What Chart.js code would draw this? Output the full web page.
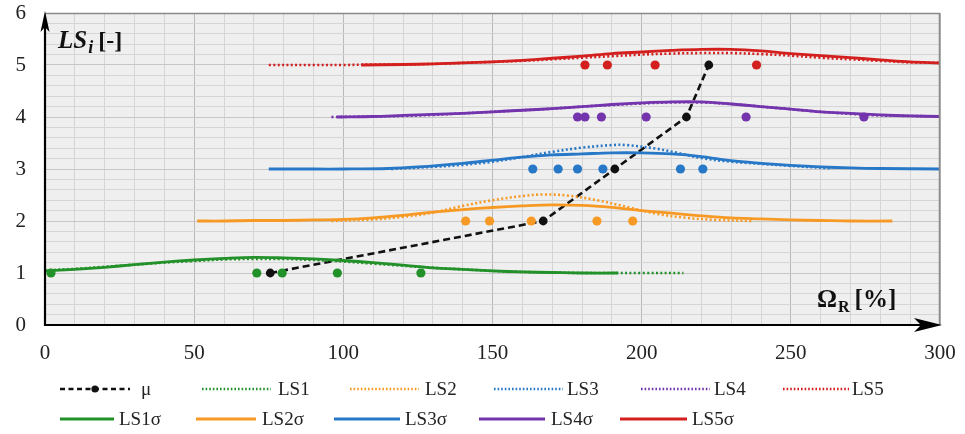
<!DOCTYPE html>
<html>
<head>
<meta charset="utf-8">
<script src="https://cdn.jsdelivr.net/npm/chart.js@4.4.1/dist/chart.umd.min.js"></script>
<style>
  html, body { margin: 0; padding: 0; background: #fff; }
  #wrap { width: 965px; height: 434px; position: relative; }
</style>
</head>
<body>
<div id="wrap"><canvas id="c" width="965" height="434"></canvas></div>
<script>
// ---- axis tick labels ----
const xTickLabels = [0, 50, 100, 150, 200, 250, 300];
const yTickLabels = [0, 1, 2, 3, 4, 5, 6];

// ---- mean trend (μ) ----
const muX = [75.5, 167, 191, 215, 222.5];
const muY = [1, 2, 3, 4, 5];

// ---- observed points at each limit state ----
const obs1X = [2, 71, 79.5, 98, 126];
const obs2X = [141, 149, 163, 185, 197];
const obs3X = [163.5, 172, 178.5, 187, 213, 220.5];
const obs4X = [178.5, 181, 186.5, 201.5, 235, 274.5];
const obs5X = [181, 188.5, 204.5, 238.5];

// ---- LS1 ----
const ls1X = [0, 10, 20, 30, 40, 50, 60, 70, 80, 90, 100, 110, 120, 130, 140, 150, 160, 170, 180, 190, 200, 214];
const ls1Y = [1.05, 1.08, 1.12, 1.16, 1.20, 1.23, 1.26, 1.27, 1.27, 1.25, 1.22, 1.18, 1.14, 1.10, 1.07, 1.04, 1.02, 1.01, 1.00, 1.00, 1.00, 1.00];
const ls1sX = [0, 10, 20, 30, 40, 50, 60, 70, 80, 90, 100, 110, 120, 130, 140, 150, 160, 170, 180, 192];
const ls1sY = [1.04, 1.07, 1.11, 1.16, 1.21, 1.25, 1.28, 1.30, 1.29, 1.27, 1.24, 1.20, 1.15, 1.10, 1.07, 1.04, 1.02, 1.01, 1.00, 1.00];

// ---- LS2 ----
const ls2X = [96, 110, 120, 130, 140, 150, 160, 167, 175, 185, 195, 205, 215, 225, 237];
const ls2Y = [2.00, 2.03, 2.08, 2.16, 2.29, 2.40, 2.48, 2.51, 2.49, 2.40, 2.27, 2.14, 2.06, 2.02, 2.00];
const ls2sX = [51, 60, 70, 80, 90, 100, 110, 120, 130, 140, 150, 160, 170, 180, 190, 200, 210, 220, 230, 240, 250, 260, 270, 284];
const ls2sY = [2.00, 2.00, 2.01, 2.01, 2.02, 2.03, 2.06, 2.11, 2.17, 2.22, 2.26, 2.29, 2.31, 2.30, 2.26, 2.20, 2.15, 2.10, 2.06, 2.04, 2.02, 2.01, 2.00, 2.00];

// ---- LS3 ----
const ls3X = [116, 130, 140, 150, 160, 170, 180, 190, 195, 205, 212, 220, 230, 240, 250, 264];
const ls3Y = [3.00, 3.04, 3.08, 3.14, 3.23, 3.33, 3.41, 3.46, 3.46, 3.39, 3.31, 3.21, 3.14, 3.10, 3.06, 3.01];
const ls3sX = [75, 90, 100, 115, 125, 140, 150, 160, 170, 180, 190, 200, 210, 220, 230, 240, 250, 260, 270, 280, 300];
const ls3sY = [3.00, 3.00, 3.00, 3.01, 3.04, 3.11, 3.17, 3.23, 3.27, 3.29, 3.31, 3.31, 3.29, 3.24, 3.16, 3.11, 3.07, 3.04, 3.02, 3.01, 3.00];

// ---- LS4 ----
const ls4X = [96, 110, 120, 130, 140, 150, 160, 170, 180, 190, 200, 210, 220, 230, 240, 250, 260, 270, 280, 290, 300];
const ls4Y = [4.00, 4.01, 4.02, 4.04, 4.07, 4.10, 4.13, 4.16, 4.20, 4.23, 4.26, 4.28, 4.28, 4.25, 4.20, 4.15, 4.10, 4.06, 4.03, 4.02, 4.01];
const ls4sX = [98, 110, 120, 130, 140, 150, 160, 170, 180, 190, 200, 210, 220, 230, 240, 250, 260, 270, 280, 290, 300];
const ls4sY = [4.00, 4.01, 4.03, 4.05, 4.07, 4.10, 4.13, 4.16, 4.20, 4.24, 4.27, 4.29, 4.29, 4.25, 4.20, 4.15, 4.10, 4.07, 4.04, 4.02, 4.01];

// ---- LS5 ----
const ls5X = [75, 90, 100, 110, 120, 130, 140, 150, 160, 170, 180, 190, 200, 210, 220, 230, 240, 250, 260, 270, 280, 290, 300];
const ls5Y = [5.00, 5.00, 5.00, 5.01, 5.01, 5.02, 5.04, 5.06, 5.08, 5.11, 5.14, 5.17, 5.20, 5.22, 5.23, 5.23, 5.21, 5.18, 5.14, 5.11, 5.08, 5.05, 5.04];
const ls5sX = [106, 120, 130, 140, 150, 160, 170, 180, 190, 200, 210, 220, 230, 240, 250, 260, 270, 280, 290, 300];
const ls5sY = [5.00, 5.01, 5.02, 5.04, 5.06, 5.09, 5.13, 5.17, 5.22, 5.25, 5.28, 5.30, 5.30, 5.27, 5.22, 5.18, 5.14, 5.10, 5.06, 5.04];

// ---- series colours ----
const GREEN = '#23912a';
const ORANGE = '#f79a25';
const BLUE = '#2878c8';
const PURPLE = '#7434ad';
const RED = '#d3201f';

const SERIF = '"Liberation Serif", "Times New Roman", serif';

const pts = (xs, ys) => xs.map((x, i) => ({ x, y: ys[i] }));
const level = (xs, lv) => xs.map(x => ({ x, y: lv }));

function dotted(label, xs, ys, color) {
  return { label, data: pts(xs, ys), showLine: true, borderColor: color, backgroundColor: color,
    borderWidth: 2.6, borderDash: [2, 2.4], pointRadius: 0, tension: 0.35, legend: 'dot' };
}
function solid(label, xs, ys, color) {
  return { label, data: pts(xs, ys), showLine: true, borderColor: color, backgroundColor: color,
    borderWidth: 2.8, pointRadius: 0, tension: 0.35, legend: 'solid' };
}
function obs(label, xs, lv, color) {
  return { label, data: level(xs, lv), showLine: false, borderColor: color, backgroundColor: color,
    pointRadius: 4.6, pointBorderWidth: 0, legend: null };
}

const datasets = [
  solid('LS1σ', ls1sX, ls1sY, GREEN),
  solid('LS2σ', ls2sX, ls2sY, ORANGE),
  solid('LS3σ', ls3sX, ls3sY, BLUE),
  solid('LS4σ', ls4sX, ls4sY, PURPLE),
  solid('LS5σ', ls5sX, ls5sY, RED),
  dotted('LS1', ls1X, ls1Y, GREEN),
  dotted('LS2', ls2X, ls2Y, ORANGE),
  dotted('LS3', ls3X, ls3Y, BLUE),
  dotted('LS4', ls4X, ls4Y, PURPLE),
  dotted('LS5', ls5X, ls5Y, RED),
  obs('LS1 obs', obs1X, 1, GREEN),
  obs('LS2 obs', obs2X, 2, ORANGE),
  obs('LS3 obs', obs3X, 3, BLUE),
  obs('LS4 obs', obs4X, 4, PURPLE),
  obs('LS5 obs', obs5X, 5, RED),
  { label: 'μ', data: pts(muX, muY), showLine: true, borderColor: '#111', backgroundColor: '#111',
    borderWidth: 2.6, borderDash: [7, 4], pointRadius: 4.4, pointBorderWidth: 0, tension: 0, legend: 'mu' }
];

// legend placement: sample start, sample end, text start, row centre
const legendLayout = [
  { label: 'μ',    x0: 60,  x1: 130, tx: 141, y: 389 },
  { label: 'LS1',  x0: 202, x1: 271, tx: 278, y: 389 },
  { label: 'LS2',  x0: 350, x1: 419, tx: 425, y: 389 },
  { label: 'LS3',  x0: 494, x1: 563, tx: 567, y: 389 },
  { label: 'LS4',  x0: 641, x1: 710, tx: 714, y: 389 },
  { label: 'LS5',  x0: 783, x1: 849, tx: 852, y: 389 },
  { label: 'LS1σ', x0: 60,  x1: 114, tx: 119, y: 419 },
  { label: 'LS2σ', x0: 196, x1: 256, tx: 262, y: 419 },
  { label: 'LS3σ', x0: 334, x1: 400, tx: 405, y: 419 },
  { label: 'LS4σ', x0: 479, x1: 545, tx: 551, y: 419 },
  { label: 'LS5σ', x0: 620, x1: 687, tx: 692, y: 419 }
];

const isLabel = (v, list) => list.some(t => Math.abs(t - v) < 1e-6);

const decor = {
  id: 'decor',
  beforeDraw(chart) {
    const { ctx, chartArea: a } = chart;
    ctx.save();
    ctx.fillStyle = '#efefef';
    ctx.fillRect(a.left, a.top, a.right - a.left, a.bottom - a.top);
    ctx.restore();
  },
  afterDraw(chart) {
    const { ctx, chartArea: a } = chart;
    ctx.save();
    // frame on top and right
    ctx.strokeStyle = '#8a8a8a';
    ctx.lineWidth = 1.5;
    ctx.beginPath();
    ctx.moveTo(a.left, a.top + 0.5);
    ctx.lineTo(a.right - 0.5, a.top + 0.5);
    ctx.lineTo(a.right - 0.5, a.bottom);
    ctx.stroke();

    // axes with arrow heads
    ctx.strokeStyle = '#000';
    ctx.fillStyle = '#000';
    ctx.lineWidth = 2.2;
    ctx.beginPath();
    ctx.moveTo(a.left, a.bottom + 1);
    ctx.lineTo(a.left, a.top + 10);
    ctx.moveTo(a.left - 1, a.bottom);
    ctx.lineTo(a.right - 12, a.bottom);
    ctx.stroke();
    // vertical arrow
    ctx.beginPath();
    ctx.moveTo(a.left, a.top - 2);
    ctx.lineTo(a.left - 4.5, a.top + 19);
    ctx.lineTo(a.left, a.top + 14);
    ctx.lineTo(a.left + 4.5, a.top + 19);
    ctx.closePath();
    ctx.fill();
    // horizontal arrow
    ctx.beginPath();
    ctx.moveTo(a.right + 2, a.bottom);
    ctx.lineTo(a.right - 26, a.bottom - 7);
    ctx.lineTo(a.right - 19, a.bottom);
    ctx.lineTo(a.right - 26, a.bottom + 7);
    ctx.closePath();
    ctx.fill();

    // axis titles
    ctx.fillStyle = '#111';
    ctx.textBaseline = 'alphabetic';
    let x = 58;
    ctx.font = 'italic bold 25px ' + SERIF;
    ctx.fillText('LS', x, 48);
    x += ctx.measureText('LS').width;
    ctx.font = 'italic bold 18px ' + SERIF;
    ctx.fillText('i', x + 1, 53);
    x += ctx.measureText('i').width + 6;
    ctx.font = 'bold 24px ' + SERIF;
    ctx.fillText('[-]', x, 48);

    x = 817;
    ctx.font = 'bold 25px ' + SERIF;
    ctx.fillText('Ω', x, 307);
    x += ctx.measureText('Ω').width + 1;
    ctx.font = 'bold 16px ' + SERIF;
    ctx.fillText('R', x, 312);
    x += ctx.measureText('R').width + 5;
    ctx.font = 'bold 25px ' + SERIF;
    ctx.fillText('[%]', x, 307);

    // legend
    ctx.font = '19px ' + SERIF;
    ctx.textBaseline = 'middle';
    legendLayout.forEach(item => {
      const ds = chart.data.datasets.find(d => d.label === item.label);
      if (!ds) return;
      ctx.strokeStyle = ds.borderColor;
      ctx.fillStyle = ds.borderColor;
      ctx.lineWidth = ds.legend === 'solid' ? 3 : 2.4;
      ctx.setLineDash(ds.legend === 'dot' ? [1.6, 2] : ds.legend === 'mu' ? [5, 3.5] : []);
      ctx.beginPath();
      ctx.moveTo(item.x0, item.y);
      ctx.lineTo(item.x1, item.y);
      ctx.stroke();
      ctx.setLineDash([]);
      if (ds.legend === 'mu') {
        ctx.beginPath();
        ctx.arc((item.x0 + item.x1) / 2, item.y, 3.6, 0, Math.PI * 2);
        ctx.fill();
      }
      ctx.fillStyle = '#222';
      ctx.fillText(item.label, item.tx, item.y + 1);
    });
    ctx.restore();
  }
};

new Chart(document.getElementById('c'), {
  type: 'scatter',
  data: { datasets },
  options: {
    responsive: false,
    animation: false,
    devicePixelRatio: 1,
    layout: { padding: { top: 13, right: 25, left: 0, bottom: 0 } },
    plugins: { legend: { display: false }, tooltip: { enabled: false } },
    scales: {
      x: {
        type: 'linear', min: 0, max: 300,
        border: { display: false },
        grid: {
          drawTicks: false,
          lineWidth: 1,
          color: c => (isLabel(c.tick.value, xTickLabels) ? '#b9b9b9' : '#d5d5d5')
        },
        ticks: {
          stepSize: 10, autoSkip: false, maxRotation: 0, padding: 16,
          color: '#222', font: { family: SERIF, size: 21 },
          callback: v => (isLabel(v, xTickLabels) ? String(v) : '')
        },
        afterFit: s => { s.height = 109; s.paddingLeft = 0; s.paddingRight = 0; }
      },
      y: {
        type: 'linear', min: 0, max: 6,
        border: { display: false },
        grid: {
          drawTicks: false,
          lineWidth: 1,
          color: c => (isLabel(c.tick.value, yTickLabels) ? '#c6c6c6' : '#d5d5d5')
        },
        ticks: {
          stepSize: 0.2, autoSkip: false, padding: 19,
          color: '#222', font: { family: SERIF, size: 21 },
          callback: v => (isLabel(v, yTickLabels) ? String(Math.round(v)) : '')
        },
        afterFit: s => { s.width = 45; s.paddingTop = 0; s.paddingBottom = 0; }
      }
    }
  },
  plugins: [decor]
});
</script>
</body>
</html>
